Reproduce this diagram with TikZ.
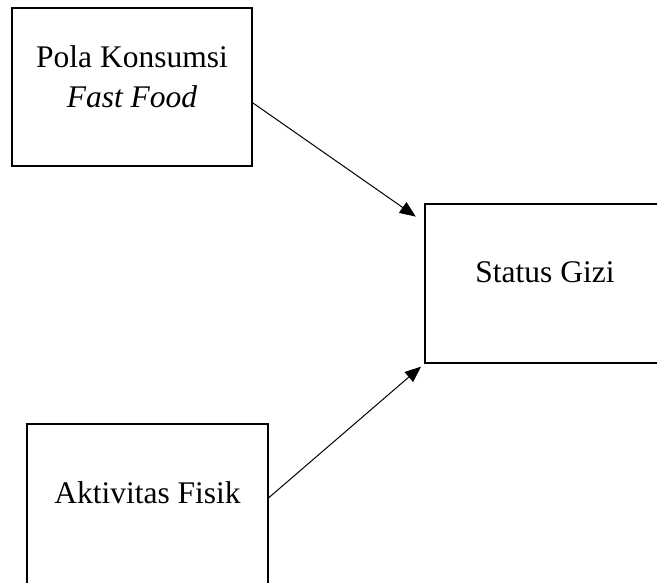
\documentclass[tikz,border=0pt]{standalone}
\usepackage{fontspec}
\setmainfont{Liberation Serif}
\usetikzlibrary{arrows.meta,calc}
\begin{document}
\begin{tikzpicture}[x=1pt,y=1pt,
  box/.style={draw,line width=2pt,minimum width=#1,inner sep=0pt},
  lbl/.style={inner sep=0pt,align=center,font=\fontsize{31.5}{40}\selectfont},
  conn/.style={line width=1pt,-{Triangle[length=16pt,width=13pt]}}]
\useasboundingbox (0,0) rectangle (657,-582);
\node[box=240pt,minimum height=158pt] (pk) at (132,-87) {};
\node[box=240pt,minimum height=159pt] (sg) at (545,-283.5) {};
\node[box=241pt,minimum height=160pt] (af) at (147.5,-504) {};
\node[lbl,anchor=north] (pkt) at (132,-45) {Pola Konsumsi\\\textit{Fast Food}};
\node[lbl,anchor=base] (sgt) at (545,-282) {Status Gizi};
\node[lbl,anchor=base] (aft) at (147.5,-503) {Aktivitas Fisik};
\draw[conn,shorten >=10pt] ($(pk.north east)!0.6!(pk.south east)$) -- ($(sg.north west)!0.12!(sg.south west)$);
\draw[conn,shorten >=4pt] ($(af.north east)!0.46!(af.south east)$) -- (sg.south west);
\end{tikzpicture}
\end{document}
